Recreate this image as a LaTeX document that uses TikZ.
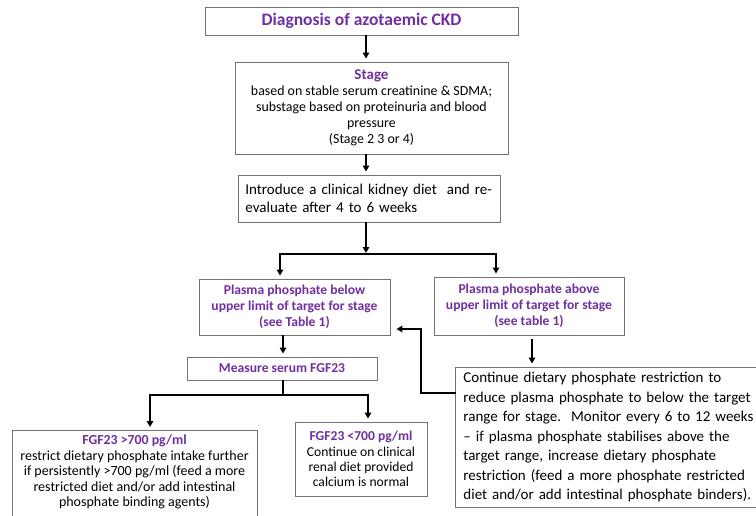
\documentclass[tikz,border=0pt]{standalone}
\usepackage{fontspec}
\setmainfont{Carlito}
\usetikzlibrary{arrows.meta,calc}
\definecolor{hdr}{RGB}{112,48,160}
\definecolor{edge}{RGB}{115,115,115}
\begin{document}
\begin{tikzpicture}[x=1pt,y=-1pt,
  box/.style={draw=edge, line width=0.9pt},
  conn/.style={line width=1.8pt, line cap=rect},
  arr/.style={line width=1.8pt, -{Triangle[length=6pt,width=6.5pt]}, shorten >=3pt},
  hdrtext/.style={text=hdr, font=\fontsize{13.6}{16}\selectfont\bfseries}]
\clip (0,0) rectangle (756,515);
\fill[white] (0,0) rectangle (756,515);

% boxes
\node[box, minimum width=313pt, minimum height=28pt, text=hdr,
  font=\fontsize{17.5}{20}\selectfont\bfseries] (title) at (361.5,21) {Diagnosis of azotaemic CKD};

\node[box, minimum width=273pt, minimum height=92pt, align=center,
  font=\fontsize{13.9}{16}\selectfont] (stage) at (371.5,108)
  {{\fontsize{15}{17}\selectfont\bfseries\color{hdr}Stage}\\based on stable serum creatinine \& SDMA;\\substage based on proteinuria and blood\\pressure\\(Stage 2 3 or 4)};

\node[box, anchor=west, minimum height=47pt, text width=248pt, inner xsep=7pt, align=left,
  font=\fontsize{15}{18}\selectfont] (intro) at (238,198.5)
  {Introduce a clinical kidney diet\ \ and re-\\evaluate after 4 to 6 weeks};

\node[box, hdrtext, minimum width=191pt, minimum height=56pt, align=center] (below) at (294.5,307)
  {Plasma phosphate below\\upper limit of target for stage\\(see Table 1)};

\node[box, hdrtext, minimum width=190pt, minimum height=58pt, align=center] (above) at (529,306)
  {Plasma phosphate above\\upper limit of target for stage\\(see table 1)};

\node[box, hdrtext, minimum width=190pt, minimum height=23pt] (measure) at (282,368.5) {Measure serum FGF23};

\node[box, anchor=west, text width=300pt, inner xsep=8pt, minimum height=140pt, align=left,
  font=\fontsize{15}{19.5}\selectfont] (big) at (455,437)
  {Continue dietary phosphate restriction to\\
   reduce plasma phosphate to below the target\\
   range for stage.\ \ Monitor every 6 to 12 weeks\\
   – if plasma phosphate stabilises above the\\
   target range, increase dietary phosphate\\
   restriction (feed a more phosphate restricted\\
   diet and/or add intestinal phosphate binders).};

\node[box, anchor=north, minimum width=245pt, minimum height=95pt] (gtbox) at (134.5,430) {};
\node[align=center, font=\fontsize{14}{15.5}\selectfont] (gttext) at (134.5,472)
  {{\fontsize{13.8}{15.5}\selectfont\bfseries\color{hdr}FGF23 >700 pg/ml}\\restrict dietary phosphate intake further\\if persistently >700 pg/ml (feed a more\\restricted diet and/or add intestinal\\phosphate binding agents)};

\node[box, minimum width=132pt, minimum height=74pt, align=center,
  font=\fontsize{13.6}{15.3}\selectfont] (lt) at (361,459)
  {{\bfseries\color{hdr}FGF23 <700 pg/ml}\\Continue on clinical\\renal diet provided\\calcium is normal};

% guide coordinates
\coordinate (xa) at (366,0);
\coordinate (spL) at (280,254);
\coordinate (spR) at (496,254);
\coordinate (sp) at (366,254);
\coordinate (xb) at (283,0);
\coordinate (ms) at (283,395);
\coordinate (mL) at (150,395);
\coordinate (mR) at (368,395);
\coordinate (xc) at (532,0);
\coordinate (fb) at (421,393);
\coordinate (fb2) at (421,329);

% connectors
\draw[arr] (title.south -| xa) -- (stage.north -| xa);
\draw[arr] (stage.south -| xa) -- (intro.north -| xa);
\draw[arr, shorten >=1pt] (intro.south -| xa) -- (sp);
\draw[conn] (spL) -- (spR);
\draw[arr] (spL) -- (spL |- below.north);
\draw[arr] (spR) -- (spR |- above.north);
\draw[arr] (below.south -| xb) -- (measure.north -| xb);
\draw[conn] (measure.south -| xb) -- (ms);
\draw[conn] (mL) -- (mR);
\draw[arr] (mL) -- (mL |- gtbox.north);
\draw[arr] (mR) -- (mR |- lt.north);
\draw[arr, shorten <=4pt] (above.south -| xc) -- (big.north -| xc);
\draw[arr, line cap=rect] (big.west |- fb) -- (fb) -- (fb2) -- ($(below.east |- fb2)+(3,0)$);
\end{tikzpicture}
\end{document}
